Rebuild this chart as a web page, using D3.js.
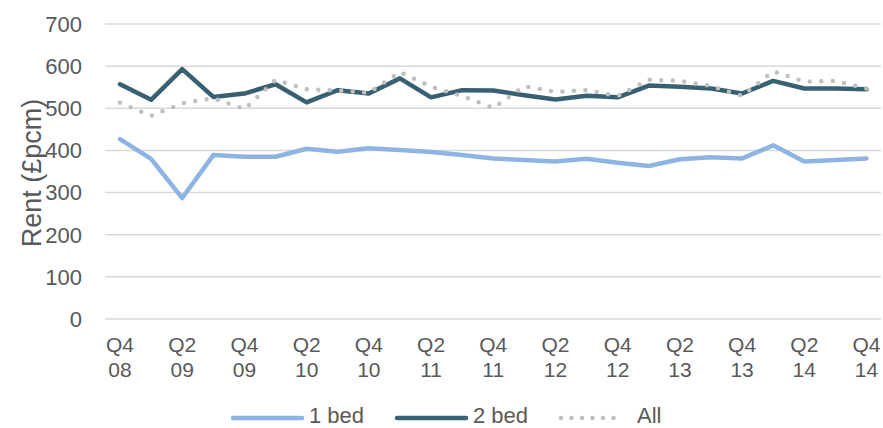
<!DOCTYPE html>
<html>
<head>
<meta charset="utf-8">
<script src="https://cdn.jsdelivr.net/npm/d3@7"></script>
<style>
  body { margin: 0; background: #fff; }
  svg text { font-family: "Liberation Sans", Arial, sans-serif; fill: #595959; }
</style>
</head>
<body>
<div id="chart"></div>
<script>
(function () {
    'use strict'

    // quarters Q4 08 .. Q4 14
    var quarters = ['Q4 08', 'Q1 09', 'Q2 09', 'Q3 09', 'Q4 09', 'Q1 10', 'Q2 10', 'Q3 10', 'Q4 10',
        'Q1 11', 'Q2 11', 'Q3 11', 'Q4 11', 'Q1 12', 'Q2 12', 'Q3 12', 'Q4 12',
        'Q1 13', 'Q2 13', 'Q3 13', 'Q4 13', 'Q1 14', 'Q2 14', 'Q3 14', 'Q4 14']

    var oneBed = [427, 380, 287, 389, 385, 385, 404, 397, 405, 401, 396, 389, 381,
        377, 374, 380, 371, 363, 379, 384, 381, 412, 374, 377, 381]
    var twoBed = [557, 520, 593, 527, 535, 557, 514, 543, 535, 571, 526, 543, 542,
        531, 521, 530, 526, 554, 551, 547, 535, 565, 547, 547, 545]
    var allBeds = [513, 482, 512, 524, 498, 567, 545, 542, 537, 586, 551, 529, 501,
        552, 539, 543, 529, 568, 565, 553, 529, 588, 563, 565, 547]

    var yTicks = [0, 100, 200, 300, 400, 500, 600, 700]

    var series = [
        { name: '1 bed', values: oneBed, color: '#8db4e2', dash: null },
        { name: '2 bed', values: twoBed, color: '#376173', dash: null },
        { name: 'All', values: allBeds, color: '#bfbfbf', dash: '0,11.5' }
    ]

    var width = 883, height = 428
    var margin = { top: 24, right: 2, bottom: 109, left: 105 }

    var svg = d3.select('#chart').append('svg')
        .attr('width', width)
        .attr('height', height)

    var x = d3.scalePoint()
        .domain(quarters)
        .range([120, 866.5])

    var y = d3.scaleLinear()
        .domain([0, 700])
        .range([height - margin.bottom, margin.top])

    // gridlines
    svg.append('g')
        .selectAll('line')
        .data(yTicks).enter()
        .append('line')
        .attr('x1', margin.left)
        .attr('x2', width - margin.right)
        .attr('y1', function (d) { return y(d) })
        .attr('y2', function (d) { return y(d) })
        .attr('stroke', '#d9d9d9')
        .attr('stroke-width', 1.5)

    // y tick labels
    svg.append('g')
        .selectAll('text')
        .data(yTicks).enter()
        .append('text')
        .attr('x', 82)
        .attr('y', function (d) { return y(d) })
        .attr('dy', '0.36em')
        .attr('text-anchor', 'end')
        .style('font-size', '22px')
        .text(function (d) { return d })

    // y title
    svg.append('text')
        .attr('transform', 'translate(41,173) rotate(-90)')
        .attr('text-anchor', 'middle')
        .style('font-size', '27px')
        .text('Rent (£pcm)')

    // x tick labels, every second quarter
    var xLabels = svg.append('g')
        .selectAll('text')
        .data(quarters.filter(function (d, i) { return i % 2 === 0 })).enter()
        .append('text')
        .attr('text-anchor', 'middle')
        .style('font-size', '21px')
        .attr('transform', function (d) { return 'translate(' + x(d) + ',0)' })

    xLabels.append('tspan')
        .attr('x', 0)
        .attr('y', 352)
        .text(function (d) { return d.split(' ')[0] })
    xLabels.append('tspan')
        .attr('x', 0)
        .attr('y', 377)
        .text(function (d) { return d.split(' ')[1] })

    var line = d3.line()
        .x(function (d, i) { return x(quarters[i]) })
        .y(function (d) { return y(d) })

    svg.append('g')
        .selectAll('path')
        .data(series).enter()
        .append('path')
        .attr('d', function (d) { return line(d.values) })
        .attr('fill', 'none')
        .attr('stroke', function (d) { return d.color })
        .attr('stroke-width', 4.5)
        .attr('stroke-linecap', 'round')
        .attr('stroke-linejoin', 'round')
        .attr('stroke-dasharray', function (d) { return d.dash })

    // legend
    var legendX = [233, 397, 561]
    var legend = svg.append('g')
        .selectAll('g')
        .data(series).enter()
        .append('g')
        .attr('transform', function (d, i) { return 'translate(' + legendX[i] + ',418)' })

    legend.append('line')
        .attr('x1', 0)
        .attr('x2', function (d) { return d.dash ? 63 : 69 })
        .attr('stroke', function (d) { return d.color })
        .attr('stroke-width', 4.5)
        .attr('stroke-linecap', 'round')
        .attr('stroke-dasharray', function (d) { return d.dash ? '0,10.5' : null })

    legend.append('text')
        .attr('x', 76)
        .attr('y', 5)
        .style('font-size', '22px')
        .text(function (d) { return d.name })
})()
</script>
</body>
</html>
